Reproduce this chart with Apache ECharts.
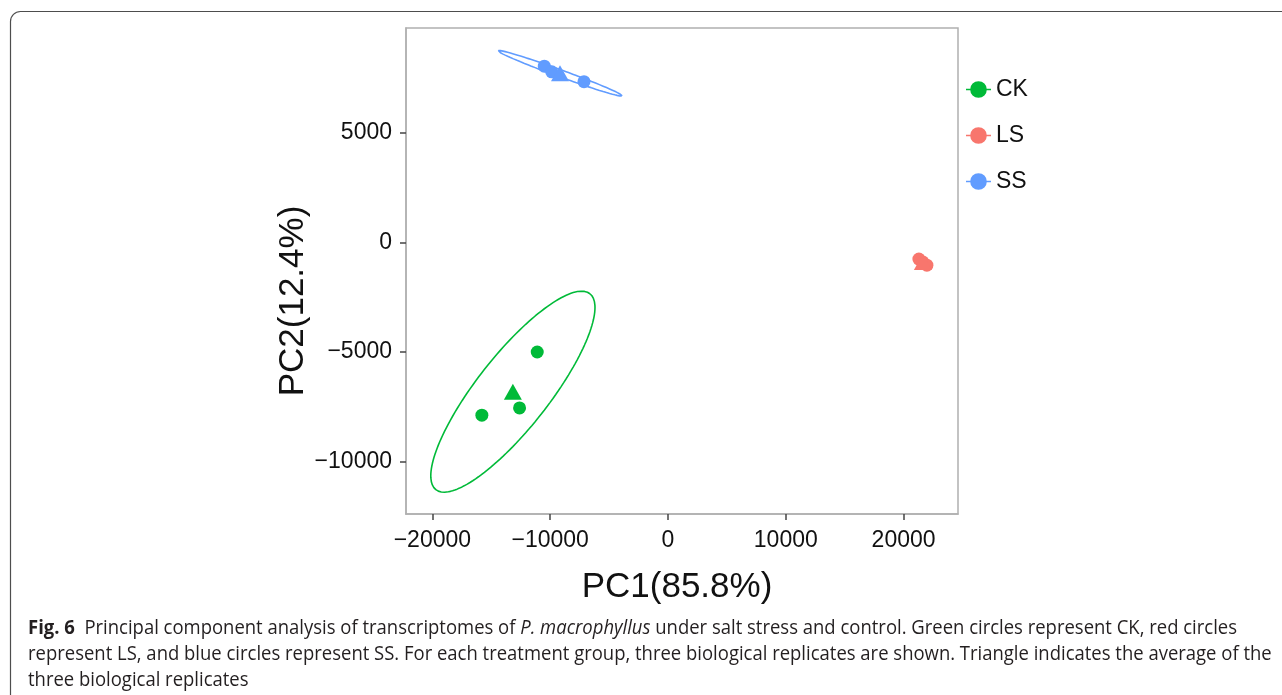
<!DOCTYPE html>
<html>
<head>
<meta charset="utf-8">
<script src="https://cdn.jsdelivr.net/npm/echarts@6/dist/echarts.min.js"></script>
<style>
html,body{margin:0;padding:0;background:#fff;}
#chart{width:1282px;height:695px;}
</style>
</head>
<body>
<div id="chart"></div>
<script>
// ---- data ----
const groups = ['CK', 'LS', 'SS'];
const groupColors = ['#00BA38', '#F8766D', '#619CFF'];
const ckPC1 = [-11100, -15800, -12600];
const ckPC2 = [-5000, -7880, -7550];
const lsPC1 = [21300, 21640, 21980];
const lsPC2 = [-760, -900, -1040];
const ssPC1 = [-10500, -9870, -7130];
const ssPC2 = [8040, 7780, 7330];
// confidence ellipse semi-axis vectors (data units)
const ckEllipseMajor = [6540, 4470];
const ckEllipseMinor = [2410, -1020];
const ssEllipseMajor = [5280, -1030];
const ssEllipseMinor = [100, 150];
const xTicks = [-20000, -10000, 0, 10000, 20000];
const yTicks = [-10000, -5000, 0, 5000];
const xTitle = 'PC1(85.8%)';
const yTitle = 'PC2(12.4%)';
const captionLines = [
  [['b', 'Fig. 6'], ['n', '  Principal component analysis of transcriptomes of '], ['i', 'P. macrophyllus'], ['n', ' under salt stress and control. Green circles represent CK, red circles']],
  [['n', 'represent LS, and blue circles represent SS. For each treatment group, three biological replicates are shown. Triangle indicates the average of the']],
  [['n', 'three biological replicates']]
];

// ---- build ----
const pcs = {CK: [ckPC1, ckPC2], LS: [lsPC1, lsPC2], SS: [ssPC1, ssPC2]};
function pts(g) { return pcs[g][0].map((x, i) => [x, pcs[g][1][i]]); }
function mean(a) { return a.reduce((s, v) => s + v, 0) / a.length; }
function centroid(g) { return [mean(pcs[g][0]), mean(pcs[g][1])]; }
function ellipse(c, u, v) {
  const out = [];
  const n = 160;
  for (let k = 0; k <= n; k++) {
    const t = 2 * Math.PI * k / n;
    out.push([c[0] + Math.cos(t) * u[0] + Math.sin(t) * v[0], c[1] + Math.cos(t) * u[1] + Math.sin(t) * v[1]]);
  }
  return out;
}
const FONT = '"Liberation Sans", Arial, Helvetica, sans-serif';
const minus = v => String(v).replace('-', '\u2212');

const series = [];
series.push({
  name: 'CK ellipse', type: 'line', data: ellipse(centroid('CK'), ckEllipseMajor, ckEllipseMinor),
  showSymbol: false, symbol: 'none', silent: true, z: 1,
  lineStyle: {color: groupColors[0], width: 1.6}
});
series.push({
  name: 'SS ellipse', type: 'line', data: ellipse(centroid('SS'), ssEllipseMajor, ssEllipseMinor),
  showSymbol: false, symbol: 'none', silent: true, z: 1,
  lineStyle: {color: groupColors[2], width: 1.6}
});
groups.forEach((g, i) => {
  series.push({
    name: g, type: 'scatter', data: pts(g), symbol: 'circle', symbolSize: 13, z: 3,
    itemStyle: {color: groupColors[i], opacity: 1}
  });
  series.push({
    name: g + ' mean', type: 'scatter', data: [centroid(g)], symbol: 'triangle', symbolSize: [18, 16], z: 3,
    itemStyle: {color: groupColors[i], opacity: 1}
  });
});

// caption sizing: condensed look via horizontal scale
const CAP_SIZE = 20;
const CAP_FONT = '"Open Sans", "Noto Sans", sans-serif';
const mctx = document.createElement('canvas').getContext('2d');
function segWidth(seg) {
  const st = seg[0];
  mctx.font = (st === 'i' ? 'italic ' : '') + (st === 'b' ? 'bold ' : '') + CAP_SIZE + 'px ' + CAP_FONT;
  return mctx.measureText(seg[1]).width;
}
const line1W = captionLines[0].reduce((s, seg) => s + segWidth(seg), 0);
const capScale = 1209 / line1W;
const capRich = {
  b: {fontFamily: CAP_FONT, fontSize: CAP_SIZE, fontWeight: 'bold', fill: '#231f20'},
  n: {fontFamily: CAP_FONT, fontSize: CAP_SIZE, fill: '#231f20'},
  i: {fontFamily: CAP_FONT, fontSize: CAP_SIZE, fontStyle: 'italic', fill: '#231f20'}
};
const captionEls = captionLines.map((line, k) => ({
  type: 'text', x: 28, y: 628 + k * 26, scaleX: capScale, scaleY: 1, originX: 0, originY: 0,
  style: {
    text: line.map(seg => '{' + seg[0] + '|' + seg[1] + '}').join(''),
    rich: capRich, verticalAlign: 'middle', align: 'left'
  }
}));

const option = {
  animation: false,
  backgroundColor: '#ffffff',
  grid: {left: 406, top: 28, right: 324, bottom: 181, show: true, borderColor: '#b0b0b0', borderWidth: 1.5, backgroundColor: 'transparent'},
  xAxis: {
    type: 'value', min: -22240, max: 24620,
    axisLine: {show: true, onZero: false, lineStyle: {color: '#b0b0b0', width: 1.5}},
    axisTick: {show: true, length: 6, lineStyle: {color: '#444', width: 1.5}, customValues: xTicks},
    axisLabel: {customValues: xTicks, formatter: minus, fontSize: 23, color: '#111', fontFamily: FONT, margin: 15},
    splitLine: {show: false}
  },
  yAxis: {
    type: 'value', min: -12390, max: 9780,
    axisLine: {show: true, onZero: false, lineStyle: {color: '#b0b0b0', width: 1.5}},
    axisTick: {show: true, length: 6, lineStyle: {color: '#444', width: 1.5}, customValues: yTicks},
    axisLabel: {customValues: yTicks, formatter: minus, fontSize: 23, color: '#111', fontFamily: FONT, margin: 14},
    splitLine: {show: false}
  },
  legend: {
    data: groups, orient: 'vertical', left: 961, top: 73, itemGap: 23,
    itemWidth: 25, itemHeight: 17,
    icon: 'path://M0,7.3H4.1V8.7H0Z M19.9,7.3H24V8.7H19.9Z M4,8A8,8 0 1,1 20,8A8,8 0 1,1 4,8Z',
    textStyle: {fontSize: 23, color: '#111', fontFamily: FONT, lineHeight: 22},
    selectedMode: false
  },
  graphic: [
    {type: 'rect', silent: true, shape: {x: 10.5, y: 11.5, width: 1320, height: 740, r: 10},
     style: {fill: 'none', stroke: '#4d4d4d', lineWidth: 1.2}, z: -10},
    {type: 'text', x: 677, y: 587, style: {text: xTitle, fontSize: 35, fontFamily: FONT, fill: '#111', align: 'center', verticalAlign: 'middle'}},
    {type: 'text', x: 293, y: 301, rotation: Math.PI / 2, style: {text: yTitle, fontSize: 35, fontFamily: FONT, fill: '#111', align: 'center', verticalAlign: 'middle'}}
  ].concat(captionEls),
  series: series
};
const chart = echarts.init(document.getElementById('chart'), null, {renderer: 'canvas'});
chart.setOption(option);
</script>
</body>
</html>
